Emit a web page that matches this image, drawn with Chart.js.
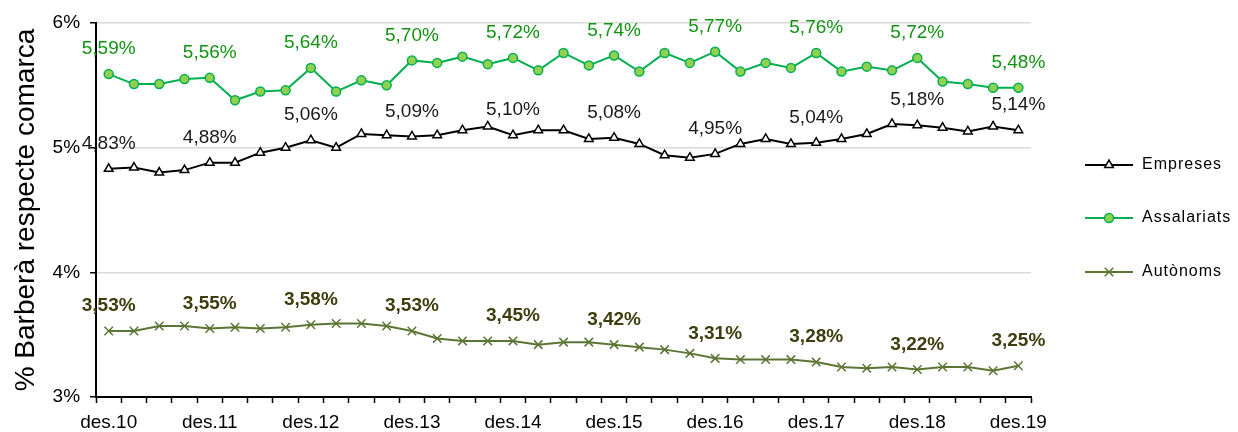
<!DOCTYPE html>
<html>
<head>
<meta charset="utf-8">
<script src="https://cdn.jsdelivr.net/npm/chart.js@4"></script>
<style>
	body { margin: 0; background: #fff; }
	#wrap { width: 1238px; height: 432px; }
</style>
</head>
<body>
<div id="wrap"><canvas id="chart"></canvas></div>
<script>
const quarters = []
for (let y = 10; y <= 19; y++) {
	if (y > 10) quarters.push("mar." + y, "jun." + y, "set." + y)
	quarters.push("des." + y)
}

const empreses = [4.83, 4.84, 4.80, 4.82, 4.88, 4.88, 4.96, 5.00, 5.06, 5.00, 5.11, 5.10, 5.09,
	5.10, 5.14, 5.17, 5.10, 5.14, 5.14, 5.07, 5.08, 5.03, 4.94, 4.92, 4.95,
	5.03, 5.07, 5.03, 5.04, 5.07, 5.11, 5.19, 5.18, 5.16, 5.13, 5.17, 5.14]

const assalariats = [5.59, 5.51, 5.51, 5.55, 5.56, 5.38, 5.45, 5.46, 5.64, 5.45, 5.54, 5.50, 5.70,
	5.68, 5.73, 5.67, 5.72, 5.62, 5.76, 5.66, 5.74, 5.61, 5.76, 5.68, 5.77,
	5.61, 5.68, 5.64, 5.76, 5.61, 5.65, 5.62, 5.72, 5.53, 5.51, 5.48, 5.48]

const autonoms = [3.53, 3.53, 3.57, 3.57, 3.55, 3.56, 3.55, 3.56, 3.58, 3.59, 3.59, 3.57, 3.53,
	3.47, 3.45, 3.45, 3.45, 3.42, 3.44, 3.44, 3.42, 3.40, 3.38, 3.35, 3.31,
	3.30, 3.30, 3.30, 3.28, 3.24, 3.23, 3.24, 3.22, 3.24, 3.24, 3.21, 3.25]

const FONT = "'Liberation Sans', Arial, sans-serif"

// etiquetes de valor cada desembre
const valueLabels = {
	id: "valueLabels",
	afterDatasetsDraw(chart) {
		const ctx = chart.ctx
		ctx.save()
		ctx.textAlign = "center"
		ctx.textBaseline = "middle"
		chart.data.datasets.forEach((ds, di) => {
			const meta = chart.getDatasetMeta(di)
			ctx.fillStyle = ds.labelColor
			ctx.font = (ds.labelBold ? "bold " : "") + "19px " + FONT
			meta.data.forEach((pt, i) => {
				if (i % 4 !== 0) return
				const txt = ds.data[i].toFixed(2).replace(".", ",") + "%"
				ctx.fillText(txt, pt.x, pt.y - 25)
			})
		})
		ctx.restore()
	}
}

// llegenda amb línia + marcador
const sideLegend = {
	id: "sideLegend",
	afterDraw(chart) {
		const ctx = chart.ctx
		const x0 = chart.chartArea.right + 54
		const rows = [165, 218, 272]
		ctx.save()
		chart.data.datasets.forEach((ds, di) => {
			const y = rows[di]
			ctx.strokeStyle = ds.borderColor
			ctx.lineWidth = 2
			ctx.beginPath()
			ctx.moveTo(x0, y)
			ctx.lineTo(x0 + 48, y)
			ctx.stroke()
			ctx.fillStyle = ds.pointBackgroundColor
			ctx.strokeStyle = ds.pointBorderColor
			ctx.lineWidth = ds.pointBorderWidth
			Chart.helpers.drawPoint(ctx, {
				pointStyle: ds.pointStyle,
				radius: ds.pointRadius,
				borderWidth: ds.pointBorderWidth
			}, x0 + 24, y)
			ctx.fillStyle = "#000"
			ctx.font = "16px " + FONT
			ctx.textAlign = "left"
			ctx.textBaseline = "middle"
			ctx.letterSpacing = "1px"
			ctx.fillText(ds.label, x0 + 57, y)
		})
		ctx.restore()
	}
}

new Chart(document.getElementById("chart"), {
	type: "line",
	data: {
		labels: quarters,
		datasets: [{
			label: "Empreses",
			data: empreses,
			borderColor: "#000000",
			borderWidth: 2,
			pointStyle: "triangle",
			pointRadius: 5,
			pointBorderWidth: 1.5,
			pointBackgroundColor: "#ffffff",
			pointBorderColor: "#000000",
			labelColor: "#1a1a1a",
			tension: 0
		}, {
			label: "Assalariats",
			data: assalariats,
			borderColor: "#00b050",
			borderWidth: 2,
			pointStyle: "circle",
			pointRadius: 4.5,
			pointBorderWidth: 1.5,
			pointBackgroundColor: "#92d050",
			pointBorderColor: "#00b050",
			labelColor: "#129412",
			tension: 0
		}, {
			label: "Autònoms",
			data: autonoms,
			borderColor: "#5b7634",
			borderWidth: 2,
			pointStyle: "crossRot",
			pointRadius: 6,
			pointBorderWidth: 1.5,
			pointBackgroundColor: "#5b7634",
			pointBorderColor: "#5b7634",
			labelColor: "#3d3d0e",
			labelBold: true,
			tension: 0
		}]
	},
	options: {
		responsive: true,
		maintainAspectRatio: false,
		animation: false,
		layout: { padding: { top: 23, right: 207, left: 9, bottom: -10 } },
		scales: {
			x: {
				offset: true,
				grid: {
					offset: true,
					drawOnChartArea: false,
					tickLength: 6,
					tickColor: "#000",
					tickWidth: 1.5
				},
				border: { color: "#000", width: 2 },
				ticks: {
					autoSkip: false,
					maxRotation: 0,
					color: "#000",
					padding: 10,
					font: { family: FONT, size: 19, lineHeight: 1 },
					callback: (v, i) => i % 4 === 0 ? quarters[i] : ""
				}
			},
			y: {
				min: 3,
				max: 6,
				grid: {
					color: "#d9d9d9",
					lineWidth: 1.5,
					tickLength: 6,
					tickColor: "#000",
					tickWidth: 1.5
				},
				border: { color: "#000", width: 2 },
				ticks: {
					stepSize: 1,
					color: "#000",
					padding: 10,
					font: { family: FONT, size: 19 },
					callback: v => v + "%"
				},
				title: {
					display: true,
					text: "% Barberà respecte comarca",
					color: "#000",
					padding: { top: 0, bottom: 0 },
					font: { family: FONT, size: 28 }
				}
			}
		},
		plugins: {
			legend: { display: false },
			tooltip: { enabled: false }
		}
	},
	plugins: [valueLabels, sideLegend]
})
</script>
</body>
</html>
